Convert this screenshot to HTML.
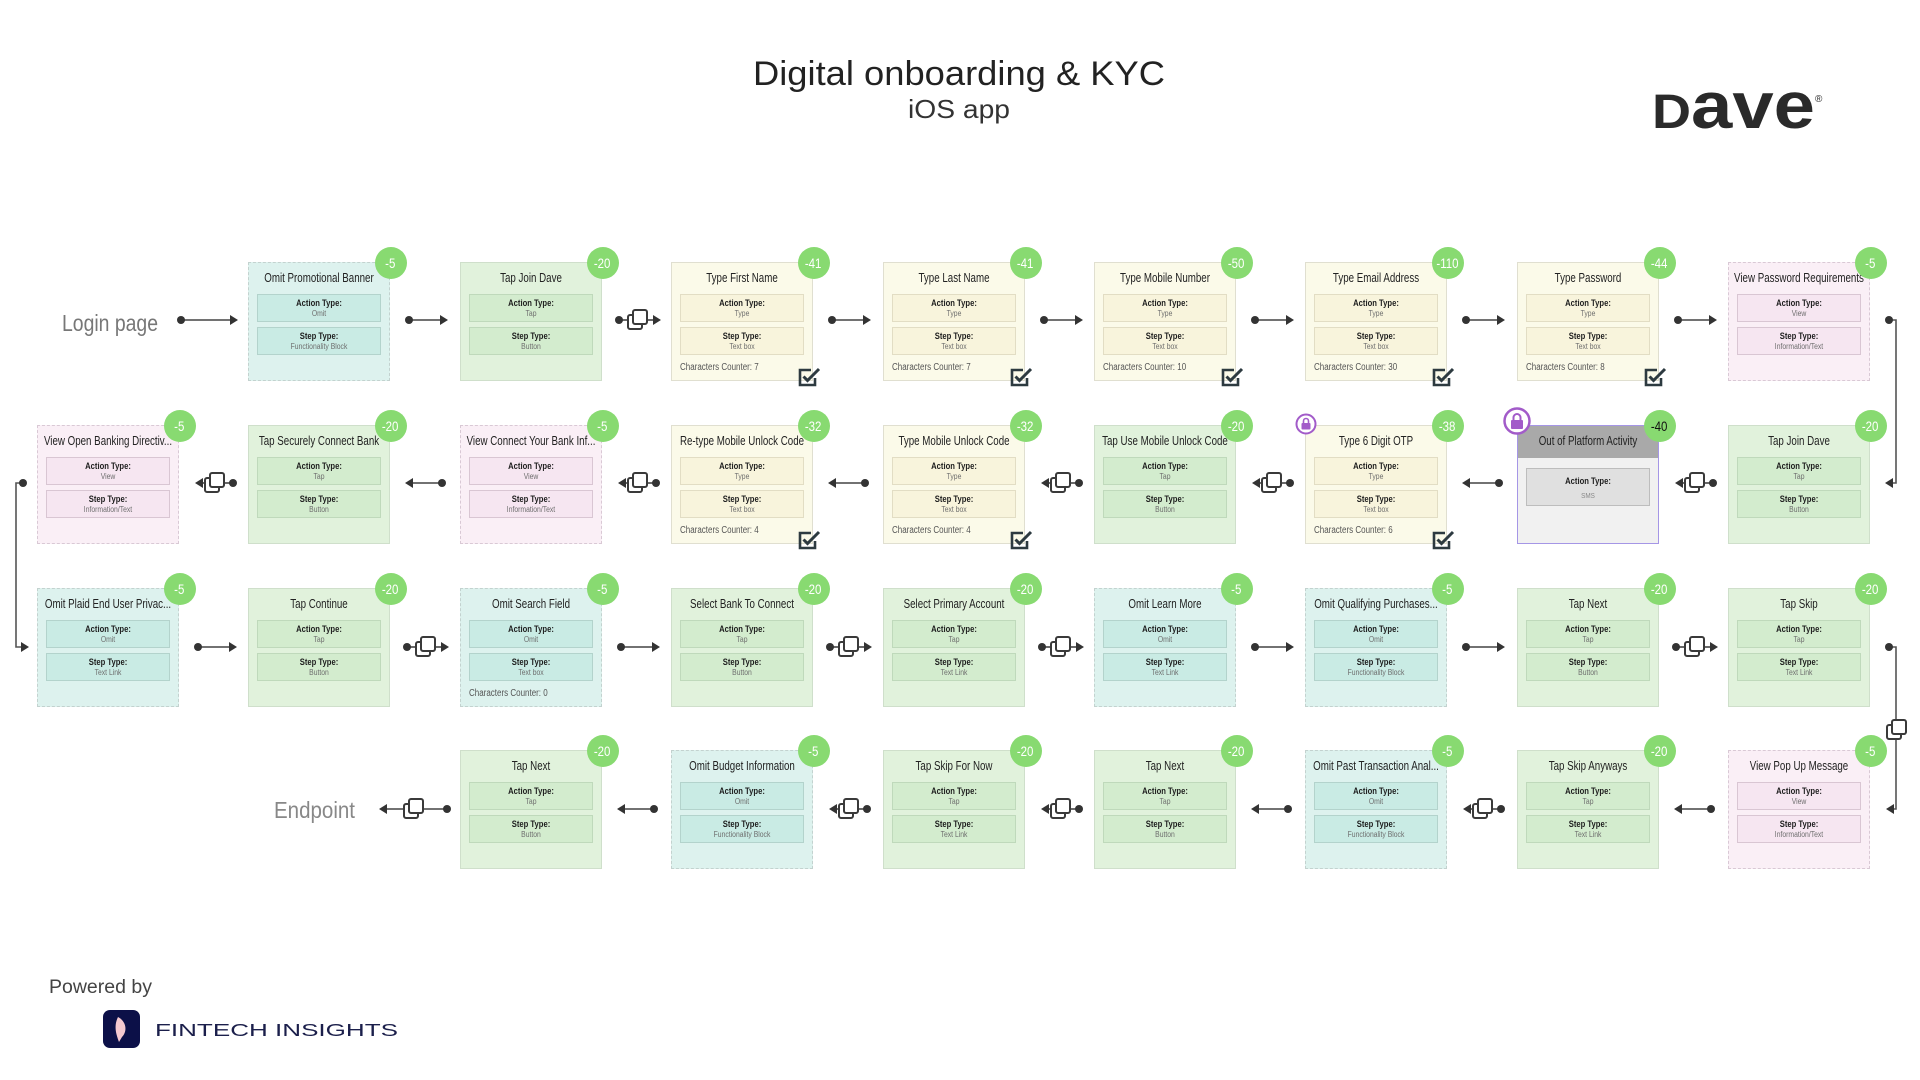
<!DOCTYPE html>
<html><head><meta charset="utf-8">
<style>
*{box-sizing:border-box}
body{margin:0;width:1920px;height:1080px;position:relative;background:#fff;overflow:hidden;font-family:"Liberation Sans",Arial,sans-serif}
.b{position:absolute;width:142px;height:119px}
.g{background:#e1f2dc;border:1.5px solid #cfdfcb}
.t{background:#ddf2ee;border:1.5px dashed #c3d2cf}
.y{background:#fbfae9;border:1.5px solid #e0dfd0}
.p{background:#faeff6;border:1.5px dashed #d9c9d5}
.o{background:#f1f1f1;border:1.5px solid #a596e6}
.h{position:absolute;left:50%;top:8px;transform:translateX(-50%) scaleX(.78);white-space:nowrap;font-size:12.5px;line-height:14px;color:#222}
.i{position:absolute;left:7.5px;width:124px;height:28px;border:1px solid}
.a{top:30.5px}.s{top:63.5px}
.g .i{background:#d3ecce;border-color:#bfd9bb}
.t .i{background:#c9ebe4;border-color:#b3d3cc}
.y .i{background:#f8f4dc;border-color:#e2ddc4}
.p .i{background:#f6e6f1;border-color:#d9c6d3}
.i b{position:absolute;left:50%;top:3.5px;transform:translateX(-50%) scaleX(.85);font-size:9px;line-height:10px;color:#1e1e1e;white-space:nowrap}
.i i{position:absolute;left:50%;top:14.5px;transform:translateX(-50%) scaleX(.85);font-size:8px;line-height:9px;color:#6e6e6e;font-style:normal;white-space:nowrap}
.c{position:absolute;left:7.5px;top:98.5px;font-size:10px;line-height:12px;color:#555;transform:scaleX(.8);transform-origin:0 50%;white-space:nowrap}
.k{position:absolute;right:-17.5px;top:-16.5px;width:32px;height:32px;border-radius:50%;background:#88da71;color:#fff;font-size:14px;line-height:32px;text-align:center}
.k span{display:inline-block;transform:scaleX(.82)}
.ck{position:absolute;left:126px;top:104px}
.hd{position:absolute;left:0;top:0;width:100%;height:32px;background:#a9a9a9}
.o .i{top:42px;height:38px;background:#e0e0e0;border-color:#bdbdbd}
.o .i b{top:7px}
.o .i i{top:22px;color:#888;font-size:7.5px}
svg.top{position:absolute;left:0;top:0}
</style></head><body>

<!-- Row 0 -->
<div class="b t" style="left:248px;top:262px"><div class="h">Omit Promotional Banner</div><div class="i a"><b>Action Type:</b><i>Omit</i></div><div class="i s"><b>Step Type:</b><i>Functionality Block</i></div><div class="k"><span>-5</span></div></div>
<div class="b g" style="left:460px;top:262px"><div class="h">Tap Join Dave</div><div class="i a"><b>Action Type:</b><i>Tap</i></div><div class="i s"><b>Step Type:</b><i>Button</i></div><div class="k"><span>-20</span></div></div>
<div class="b y" style="left:671px;top:262px"><div class="h">Type First Name</div><div class="i a"><b>Action Type:</b><i>Type</i></div><div class="i s"><b>Step Type:</b><i>Text box</i></div><div class="c">Characters Counter: 7</div><svg class="ck" width="24" height="20" viewBox="0 0 24 20"><path d="M13 3H2v15h15v-7" fill="none" stroke="#2d3a40" stroke-width="2.6"/><path d="M5.5 9.5l4 4L21 2" fill="none" stroke="#2d3a40" stroke-width="3"/></svg><div class="k"><span>-41</span></div></div>
<div class="b y" style="left:883px;top:262px"><div class="h">Type Last Name</div><div class="i a"><b>Action Type:</b><i>Type</i></div><div class="i s"><b>Step Type:</b><i>Text box</i></div><div class="c">Characters Counter: 7</div><svg class="ck" width="24" height="20" viewBox="0 0 24 20"><path d="M13 3H2v15h15v-7" fill="none" stroke="#2d3a40" stroke-width="2.6"/><path d="M5.5 9.5l4 4L21 2" fill="none" stroke="#2d3a40" stroke-width="3"/></svg><div class="k"><span>-41</span></div></div>
<div class="b y" style="left:1094px;top:262px"><div class="h">Type Mobile Number</div><div class="i a"><b>Action Type:</b><i>Type</i></div><div class="i s"><b>Step Type:</b><i>Text box</i></div><div class="c">Characters Counter: 10</div><svg class="ck" width="24" height="20" viewBox="0 0 24 20"><path d="M13 3H2v15h15v-7" fill="none" stroke="#2d3a40" stroke-width="2.6"/><path d="M5.5 9.5l4 4L21 2" fill="none" stroke="#2d3a40" stroke-width="3"/></svg><div class="k"><span>-50</span></div></div>
<div class="b y" style="left:1305px;top:262px"><div class="h">Type Email Address</div><div class="i a"><b>Action Type:</b><i>Type</i></div><div class="i s"><b>Step Type:</b><i>Text box</i></div><div class="c">Characters Counter: 30</div><svg class="ck" width="24" height="20" viewBox="0 0 24 20"><path d="M13 3H2v15h15v-7" fill="none" stroke="#2d3a40" stroke-width="2.6"/><path d="M5.5 9.5l4 4L21 2" fill="none" stroke="#2d3a40" stroke-width="3"/></svg><div class="k"><span>-110</span></div></div>
<div class="b y" style="left:1517px;top:262px"><div class="h">Type Password</div><div class="i a"><b>Action Type:</b><i>Type</i></div><div class="i s"><b>Step Type:</b><i>Text box</i></div><div class="c">Characters Counter: 8</div><svg class="ck" width="24" height="20" viewBox="0 0 24 20"><path d="M13 3H2v15h15v-7" fill="none" stroke="#2d3a40" stroke-width="2.6"/><path d="M5.5 9.5l4 4L21 2" fill="none" stroke="#2d3a40" stroke-width="3"/></svg><div class="k"><span>-44</span></div></div>
<div class="b p" style="left:1728px;top:262px"><div class="h">View Password Requirements</div><div class="i a"><b>Action Type:</b><i>View</i></div><div class="i s"><b>Step Type:</b><i>Information/Text</i></div><div class="k"><span>-5</span></div></div>

<!-- Row 1 -->
<div class="b p" style="left:37px;top:425px"><div class="h">View Open Banking Directiv...</div><div class="i a"><b>Action Type:</b><i>View</i></div><div class="i s"><b>Step Type:</b><i>Information/Text</i></div><div class="k"><span>-5</span></div></div>
<div class="b g" style="left:248px;top:425px"><div class="h">Tap Securely Connect Bank</div><div class="i a"><b>Action Type:</b><i>Tap</i></div><div class="i s"><b>Step Type:</b><i>Button</i></div><div class="k"><span>-20</span></div></div>
<div class="b p" style="left:460px;top:425px"><div class="h">View Connect Your Bank Inf...</div><div class="i a"><b>Action Type:</b><i>View</i></div><div class="i s"><b>Step Type:</b><i>Information/Text</i></div><div class="k"><span>-5</span></div></div>
<div class="b y" style="left:671px;top:425px"><div class="h">Re-type Mobile Unlock Code</div><div class="i a"><b>Action Type:</b><i>Type</i></div><div class="i s"><b>Step Type:</b><i>Text box</i></div><div class="c">Characters Counter: 4</div><svg class="ck" width="24" height="20" viewBox="0 0 24 20"><path d="M13 3H2v15h15v-7" fill="none" stroke="#2d3a40" stroke-width="2.6"/><path d="M5.5 9.5l4 4L21 2" fill="none" stroke="#2d3a40" stroke-width="3"/></svg><div class="k"><span>-32</span></div></div>
<div class="b y" style="left:883px;top:425px"><div class="h">Type Mobile Unlock Code</div><div class="i a"><b>Action Type:</b><i>Type</i></div><div class="i s"><b>Step Type:</b><i>Text box</i></div><div class="c">Characters Counter: 4</div><svg class="ck" width="24" height="20" viewBox="0 0 24 20"><path d="M13 3H2v15h15v-7" fill="none" stroke="#2d3a40" stroke-width="2.6"/><path d="M5.5 9.5l4 4L21 2" fill="none" stroke="#2d3a40" stroke-width="3"/></svg><div class="k"><span>-32</span></div></div>
<div class="b g" style="left:1094px;top:425px"><div class="h">Tap Use Mobile Unlock Code</div><div class="i a"><b>Action Type:</b><i>Tap</i></div><div class="i s"><b>Step Type:</b><i>Button</i></div><div class="k"><span>-20</span></div></div>
<div class="b y" style="left:1305px;top:425px"><div class="h">Type 6 Digit OTP</div><div class="i a"><b>Action Type:</b><i>Type</i></div><div class="i s"><b>Step Type:</b><i>Text box</i></div><div class="c">Characters Counter: 6</div><svg class="ck" width="24" height="20" viewBox="0 0 24 20"><path d="M13 3H2v15h15v-7" fill="none" stroke="#2d3a40" stroke-width="2.6"/><path d="M5.5 9.5l4 4L21 2" fill="none" stroke="#2d3a40" stroke-width="3"/></svg><div class="k"><span>-38</span></div></div>
<div class="b o" style="left:1517px;top:425px"><div class="hd"></div><div class="h">Out of Platform Activity</div><div class="i"><b>Action Type:</b><i>SMS</i></div><div class="k" style="color:#111"><span>-40</span></div></div>
<div class="b g" style="left:1728px;top:425px"><div class="h">Tap Join Dave</div><div class="i a"><b>Action Type:</b><i>Tap</i></div><div class="i s"><b>Step Type:</b><i>Button</i></div><div class="k"><span>-20</span></div></div>

<!-- Row 2 -->
<div class="b t" style="left:37px;top:588px"><div class="h">Omit Plaid End User Privac...</div><div class="i a"><b>Action Type:</b><i>Omit</i></div><div class="i s"><b>Step Type:</b><i>Text Link</i></div><div class="k"><span>-5</span></div></div>
<div class="b g" style="left:248px;top:588px"><div class="h">Tap Continue</div><div class="i a"><b>Action Type:</b><i>Tap</i></div><div class="i s"><b>Step Type:</b><i>Button</i></div><div class="k"><span>-20</span></div></div>
<div class="b t" style="left:460px;top:588px"><div class="h">Omit Search Field</div><div class="i a"><b>Action Type:</b><i>Omit</i></div><div class="i s"><b>Step Type:</b><i>Text box</i></div><div class="c">Characters Counter: 0</div><div class="k"><span>-5</span></div></div>
<div class="b g" style="left:671px;top:588px"><div class="h">Select Bank To Connect</div><div class="i a"><b>Action Type:</b><i>Tap</i></div><div class="i s"><b>Step Type:</b><i>Button</i></div><div class="k"><span>-20</span></div></div>
<div class="b g" style="left:883px;top:588px"><div class="h">Select Primary Account</div><div class="i a"><b>Action Type:</b><i>Tap</i></div><div class="i s"><b>Step Type:</b><i>Text Link</i></div><div class="k"><span>-20</span></div></div>
<div class="b t" style="left:1094px;top:588px"><div class="h">Omit Learn More</div><div class="i a"><b>Action Type:</b><i>Omit</i></div><div class="i s"><b>Step Type:</b><i>Text Link</i></div><div class="k"><span>-5</span></div></div>
<div class="b t" style="left:1305px;top:588px"><div class="h">Omit Qualifying Purchases...</div><div class="i a"><b>Action Type:</b><i>Omit</i></div><div class="i s"><b>Step Type:</b><i>Functionality Block</i></div><div class="k"><span>-5</span></div></div>
<div class="b g" style="left:1517px;top:588px"><div class="h">Tap Next</div><div class="i a"><b>Action Type:</b><i>Tap</i></div><div class="i s"><b>Step Type:</b><i>Button</i></div><div class="k"><span>-20</span></div></div>
<div class="b g" style="left:1728px;top:588px"><div class="h">Tap Skip</div><div class="i a"><b>Action Type:</b><i>Tap</i></div><div class="i s"><b>Step Type:</b><i>Text Link</i></div><div class="k"><span>-20</span></div></div>

<!-- Row 3 -->
<div class="b g" style="left:460px;top:750px"><div class="h">Tap Next</div><div class="i a"><b>Action Type:</b><i>Tap</i></div><div class="i s"><b>Step Type:</b><i>Button</i></div><div class="k"><span>-20</span></div></div>
<div class="b t" style="left:671px;top:750px"><div class="h">Omit Budget Information</div><div class="i a"><b>Action Type:</b><i>Omit</i></div><div class="i s"><b>Step Type:</b><i>Functionality Block</i></div><div class="k"><span>-5</span></div></div>
<div class="b g" style="left:883px;top:750px"><div class="h">Tap Skip For Now</div><div class="i a"><b>Action Type:</b><i>Tap</i></div><div class="i s"><b>Step Type:</b><i>Text Link</i></div><div class="k"><span>-20</span></div></div>
<div class="b g" style="left:1094px;top:750px"><div class="h">Tap Next</div><div class="i a"><b>Action Type:</b><i>Tap</i></div><div class="i s"><b>Step Type:</b><i>Button</i></div><div class="k"><span>-20</span></div></div>
<div class="b t" style="left:1305px;top:750px"><div class="h">Omit Past Transaction Anal...</div><div class="i a"><b>Action Type:</b><i>Omit</i></div><div class="i s"><b>Step Type:</b><i>Functionality Block</i></div><div class="k"><span>-5</span></div></div>
<div class="b g" style="left:1517px;top:750px"><div class="h">Tap Skip Anyways</div><div class="i a"><b>Action Type:</b><i>Tap</i></div><div class="i s"><b>Step Type:</b><i>Text Link</i></div><div class="k"><span>-20</span></div></div>
<div class="b p" style="left:1728px;top:750px"><div class="h">View Pop Up Message</div><div class="i a"><b>Action Type:</b><i>View</i></div><div class="i s"><b>Step Type:</b><i>Information/Text</i></div><div class="k"><span>-5</span></div></div>

<svg class="top" width="1920" height="1080" viewBox="0 0 1920 1080" xmlns="http://www.w3.org/2000/svg">
<defs>
<g id="cp" fill="#fff" stroke="#3a3a3a" stroke-width="2"><rect x="1" y="-5" width="14" height="14" rx="2"/><rect x="6" y="-10" width="14" height="14" rx="2"/></g>
<g id="pr"><line x1="19" y1="0" x2="51" y2="0" stroke="#444" stroke-width="1.6"/><circle cx="19" cy="0" r="4" fill="#333"/><polygon points="50,-5 58,0 50,5" fill="#333"/></g>
<g id="pl"><line x1="22" y1="0" x2="52" y2="0" stroke="#444" stroke-width="1.6"/><circle cx="52" cy="0" r="4" fill="#333"/><polygon points="15,0 23,-5 23,5" fill="#333"/></g>
<g id="cr"><line x1="17" y1="0" x2="27" y2="0" stroke="#444" stroke-width="1.6"/><line x1="44" y1="0" x2="52" y2="0" stroke="#444" stroke-width="1.6"/><circle cx="17" cy="0" r="4" fill="#333"/><use href="#cp" x="25" y="0"/><polygon points="51,-5 59,0 51,5" fill="#333"/></g>
<g id="cl"><line x1="23" y1="0" x2="27" y2="0" stroke="#444" stroke-width="1.6"/><line x1="44" y1="0" x2="54" y2="0" stroke="#444" stroke-width="1.6"/><circle cx="54" cy="0" r="4" fill="#333"/><use href="#cp" x="25" y="0"/><polygon points="16,0 24,-5 24,5" fill="#333"/></g>
</defs>

<!-- Title -->
<text x="959" y="85" text-anchor="middle" font-family="Liberation Sans, sans-serif" font-size="34" fill="#222" textLength="412" lengthAdjust="spacingAndGlyphs">Digital onboarding &amp; KYC</text>
<text x="959" y="118" text-anchor="middle" font-family="Liberation Sans, sans-serif" font-size="26" fill="#333" textLength="102" lengthAdjust="spacingAndGlyphs">iOS app</text>

<!-- Dave logo -->
<text x="1652" y="128" font-family="Liberation Sans, sans-serif" font-weight="bold" font-size="48" fill="#2a2a2a" textLength="163" lengthAdjust="spacingAndGlyphs">D<tspan font-size="66">ave</tspan></text>
<text x="1815" y="102" font-family="Liberation Sans, sans-serif" font-size="10" fill="#2a2a2a">®</text>

<!-- Labels -->
<text x="62" y="331" font-family="Liberation Sans, sans-serif" font-size="23" fill="#777" textLength="96" lengthAdjust="spacingAndGlyphs">Login page</text>
<text x="274" y="818" font-family="Liberation Sans, sans-serif" font-size="23" fill="#888" textLength="81" lengthAdjust="spacingAndGlyphs">Endpoint</text>

<!-- Powered by -->
<text x="49" y="993" font-family="Liberation Sans, sans-serif" font-size="19.5" fill="#444">Powered by</text>
<rect x="103" y="1010" width="37" height="38" rx="7" fill="#0c1048"/>
<path d="M118,1017 C126,1021 128,1031 122,1037 L119,1042 C117,1036 113,1027 118,1017 Z" fill="#f5c9d0"/>
<text x="155" y="1036" font-family="Liberation Sans, sans-serif" font-size="17.5" fill="#1b1f4b" textLength="243" lengthAdjust="spacingAndGlyphs">FINTECH INSIGHTS</text>

<!-- Login arrow -->
<line x1="181" y1="320" x2="231" y2="320" stroke="#444" stroke-width="1.6"/><circle cx="181" cy="320" r="4" fill="#333"/><polygon points="230,315 238,320 230,325" fill="#333"/>

<!-- Row 0 connectors y=320 -->
<use href="#pr" x="390" y="320"/>
<use href="#cr" x="602" y="320"/>
<use href="#pr" x="813" y="320"/>
<use href="#pr" x="1025" y="320"/>
<use href="#pr" x="1236" y="320"/>
<use href="#pr" x="1447" y="320"/>
<use href="#pr" x="1659" y="320"/>
<path d="M1889,320 H1896 V483 H1892" fill="none" stroke="#555" stroke-width="1.6"/>
<circle cx="1889" cy="320" r="4" fill="#333"/>
<polygon points="1885,483 1893,478 1893,488" fill="#333"/>

<!-- Row 1 connectors y=483 -->
<use href="#cl" x="179" y="483"/>
<use href="#pl" x="390" y="483"/>
<use href="#cl" x="602" y="483"/>
<use href="#pl" x="813" y="483"/>
<use href="#cl" x="1025" y="483"/>
<use href="#cl" x="1236" y="483"/>
<use href="#pl" x="1447" y="483"/>
<use href="#cl" x="1659" y="483"/>
<path d="M23,483 H16 V647 H22" fill="none" stroke="#555" stroke-width="1.6"/>
<circle cx="23" cy="483" r="4" fill="#333"/>
<polygon points="21,642 29,647 21,652" fill="#333"/>

<!-- Row 2 connectors y=647 -->
<use href="#pr" x="179" y="647"/>
<use href="#cr" x="390" y="647"/>
<use href="#pr" x="602" y="647"/>
<use href="#cr" x="813" y="647"/>
<use href="#cr" x="1025" y="647"/>
<use href="#pr" x="1236" y="647"/>
<use href="#pr" x="1447" y="647"/>
<use href="#cr" x="1659" y="647"/>
<path d="M1889,647 H1896 V809 H1892" fill="none" stroke="#555" stroke-width="1.6"/>
<circle cx="1889" cy="647" r="4" fill="#333"/>
<use href="#cp" x="1886" y="730"/>
<polygon points="1886,809 1894,804 1894,814" fill="#333"/>

<!-- Row 3 connectors y=809 -->
<use href="#pl" x="602" y="809"/>
<use href="#cl" x="813" y="809"/>
<use href="#cl" x="1025" y="809"/>
<use href="#pl" x="1236" y="809"/>
<use href="#cl" x="1447" y="809"/>
<use href="#pl" x="1659" y="809"/>
<line x1="386" y1="809" x2="405" y2="809" stroke="#444" stroke-width="1.6"/>
<line x1="422" y1="809" x2="447" y2="809" stroke="#444" stroke-width="1.6"/>
<polygon points="379,809 387,804 387,814" fill="#333"/>
<use href="#cp" x="403" y="809"/>
<circle cx="447" cy="809" r="4" fill="#333"/>

<!-- Lock icons -->
<circle cx="1306" cy="424" r="9.5" fill="#fff" stroke="#a25bc9" stroke-width="2"/>
<path d="M1303.5,423.5 v-2.5 a2.5,2.5 0 0 1 5,0 v2.5" fill="none" stroke="#a25bc9" stroke-width="1.6"/>
<rect x="1301.5" y="423" width="9" height="6.5" rx="1" fill="#a25bc9"/>
<circle cx="1517" cy="421" r="12.5" fill="#fff" stroke="#a25bc9" stroke-width="2.5"/>
<path d="M1513.5,420.5 v-3 a3.5,3.5 0 0 1 7,0 v3" fill="none" stroke="#a25bc9" stroke-width="2"/>
<rect x="1511" y="420" width="12" height="9" rx="1" fill="#a25bc9"/>
</svg>
</body></html>
